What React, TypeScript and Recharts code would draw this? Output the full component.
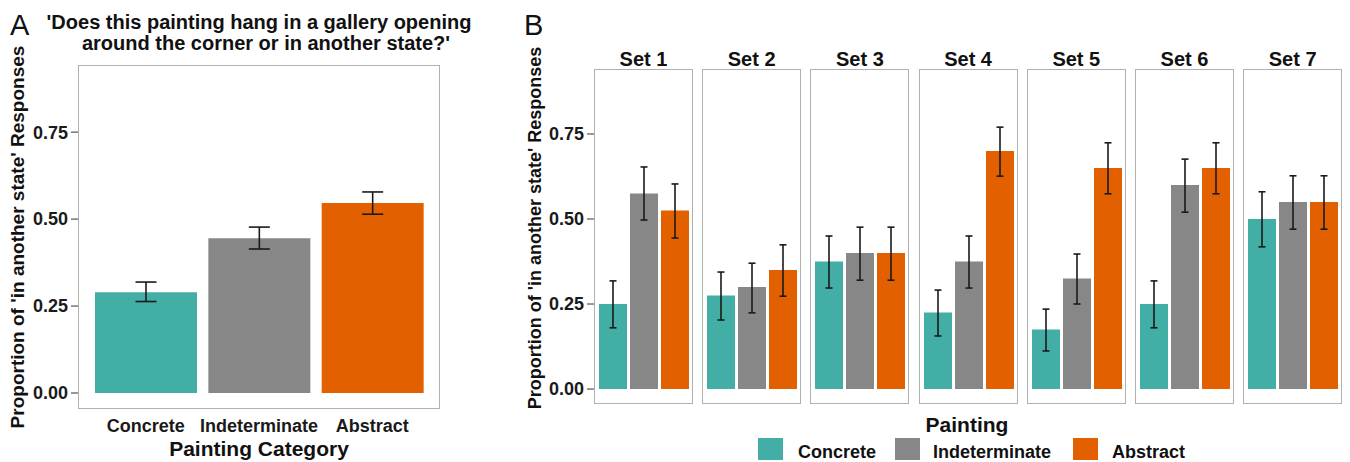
import React from 'react';
import { BarChart, Bar, XAxis, YAxis, ErrorBar, Cell } from 'recharts';

const FONT = '"Liberation Sans", Arial, Helvetica, sans-serif';

// painting categories + fill colours
const categories = ['Concrete', 'Indeterminate', 'Abstract'];
const catColors = ['#42aea5', '#878787', '#e36000'];
const yTicks = [0, 0.25, 0.5, 0.75];

// Panel A: overall proportions with error bar bounds
const overallMean = [0.29, 0.445, 0.546];
const overallLow = [0.263, 0.414, 0.514];
const overallHigh = [0.319, 0.477, 0.578];

// Panel B: per painting set
const setLabels = ['Set 1', 'Set 2', 'Set 3', 'Set 4', 'Set 5', 'Set 6', 'Set 7'];
const concreteMean = [0.25, 0.275, 0.375, 0.225, 0.175, 0.25, 0.5];
const concreteLow = [0.18, 0.203, 0.297, 0.156, 0.112, 0.18, 0.418];
const concreteHigh = [0.318, 0.344, 0.45, 0.291, 0.235, 0.318, 0.58];
const indetMean = [0.575, 0.3, 0.4, 0.375, 0.325, 0.6, 0.55];
const indetLow = [0.497, 0.224, 0.32, 0.297, 0.25, 0.52, 0.47];
const indetHigh = [0.653, 0.37, 0.476, 0.45, 0.397, 0.676, 0.627];
const abstractMean = [0.525, 0.35, 0.4, 0.7, 0.65, 0.65, 0.55];
const abstractLow = [0.444, 0.273, 0.32, 0.626, 0.574, 0.574, 0.47];
const abstractHigh = [0.603, 0.424, 0.476, 0.77, 0.724, 0.724, 0.627];

type Row = { cat: string; value: number; err: [number, number] };

const buildRows = (means: number[], lows: number[], highs: number[]): Row[] =>
    categories.map((c, i) => ({
        cat: c,
        value: means[i],
        err: [means[i] - lows[i], highs[i] - means[i]],
    }));

const tickStyle = { fill: '#1a1a1a', fontSize: 18, fontWeight: 700, fontFamily: FONT };
const borderColor = '#b0b0b0';

// panel B geometry
const FACET_LEFT = 594;
const FACET_STEP = 108.2;
const FACET_W = 99;
const FACET_TOP = 69;
const FACET_BOTTOM = 404;
const AXIS_W = 60;

const Facet: React.FC<{ index: number }> = ({ index }) => {
    const rows = buildRows(
        [concreteMean[index], indetMean[index], abstractMean[index]],
        [concreteLow[index], indetLow[index], abstractLow[index]],
        [concreteHigh[index], indetHigh[index], abstractHigh[index]]
    );
    const showAxis = index === 0;
    const plotLeft = FACET_LEFT + index * FACET_STEP;
    const chartLeft = showAxis ? plotLeft - AXIS_W : plotLeft;
    return (
        <>
            <div style={{ position: 'absolute', left: chartLeft, top: 0 }}>
                <BarChart
                    width={FACET_W + (showAxis ? AXIS_W : 0)}
                    height={462}
                    data={rows}
                    margin={{ top: FACET_TOP, right: 0, bottom: 462 - FACET_BOTTOM, left: 0 }}
                >
                    <XAxis dataKey="cat" type="category" hide padding={{ left: 3, right: 3 }} />
                    <YAxis
                        hide={!showAxis}
                        width={AXIS_W}
                        domain={[-0.044, 0.941]}
                        ticks={yTicks}
                        axisLine={false}
                        tickSize={7}
                        tickMargin={3}
                        tickLine={{ stroke: '#555', strokeWidth: 1.2 }}
                        tick={tickStyle}
                        tickFormatter={(v: number) => v.toFixed(2)}
                        allowDataOverflow
                    />
                    <Bar dataKey="value" barSize={28} isAnimationActive={false}>
                        {rows.map((r, i) => (
                            <Cell key={r.cat} fill={catColors[i]} />
                        ))}
                        <ErrorBar dataKey="err" width={3.5} stroke="#1a1a1a" strokeWidth={1.6} isAnimationActive={false} />
                    </Bar>
                </BarChart>
            </div>
            <div
                style={{
                    position: 'absolute',
                    left: plotLeft,
                    top: FACET_TOP,
                    width: FACET_W,
                    height: FACET_BOTTOM - FACET_TOP,
                    border: `1.5px solid ${borderColor}`,
                    boxSizing: 'border-box',
                    pointerEvents: 'none',
                }}
            />
        </>
    );
};

const App: React.FC = () => {
    const overallRows = buildRows(overallMean, overallLow, overallHigh);
    const legendX = [758, 895, 1073];
    const legendTextX = [798, 933, 1112];

    return (
        <div style={{ position: 'absolute', left: 0, top: 0, width: 1350, height: 462, background: '#fff', fontFamily: FONT }}>
            <svg width={1350} height={462} style={{ position: 'absolute', left: 0, top: 0 }}>
                <g fontFamily={FONT} fill="#111">
                    <text x={10} y={35} fontSize={29}>A</text>
                    <text x={524} y={35} fontSize={29}>B</text>
                    <text x={259} y={29} fontSize={20} fontWeight={700} textAnchor="middle">
                        'Does this painting hang in a gallery opening
                    </text>
                    <text x={266} y={50} fontSize={20} fontWeight={700} textAnchor="middle">
                        around the corner or in another state?'
                    </text>
                    <text transform="translate(24,237) rotate(-90)" fontSize={19} fontWeight={700} textAnchor="middle">
                        Proportion of 'in another state' Responses
                    </text>
                    <text x={259} y={456} fontSize={21} fontWeight={700} textAnchor="middle">Painting Category</text>
                    <text transform="translate(541,228) rotate(-90)" fontSize={18} fontWeight={700} textAnchor="middle">
                        Proportion of 'in another state' Responses
                    </text>
                    {setLabels.map((s, i) => (
                        <text key={s} x={FACET_LEFT + i * FACET_STEP + FACET_W / 2} y={66} fontSize={20} fontWeight={700} textAnchor="middle">
                            {s}
                        </text>
                    ))}
                    <text x={967} y={432} fontSize={21} fontWeight={700} textAnchor="middle">Painting</text>
                    {categories.map((c, i) => (
                        <g key={c}>
                            <rect x={legendX[i]} y={438} width={25} height={22} fill={catColors[i]} />
                            <text x={legendTextX[i]} y={458} fontSize={18} fontWeight={700}>{c}</text>
                        </g>
                    ))}
                </g>
            </svg>

            {/* Panel A */}
            <div style={{ position: 'absolute', left: 0, top: 0 }}>
                <BarChart
                    width={460}
                    height={462}
                    data={overallRows}
                    margin={{ top: 65, right: 20, bottom: 23, left: 10 }}
                >
                    <XAxis
                        dataKey="cat"
                        type="category"
                        height={30}
                        axisLine={false}
                        tickLine={false}
                        tickSize={6}
                        tickMargin={4}
                        tick={tickStyle}
                        padding={{ left: 11, right: 11 }}
                        interval={0}
                    />
                    <YAxis
                        width={68}
                        domain={[-0.046, 0.943]}
                        ticks={yTicks}
                        axisLine={false}
                        tickSize={7}
                        tickMargin={3}
                        tickLine={{ stroke: '#555', strokeWidth: 1.2 }}
                        tick={tickStyle}
                        tickFormatter={(v: number) => v.toFixed(2)}
                        allowDataOverflow
                    />
                    <Bar dataKey="value" barSize={102} isAnimationActive={false}>
                        {overallRows.map((r, i) => (
                            <Cell key={r.cat} fill={catColors[i]} />
                        ))}
                        <ErrorBar dataKey="err" width={10.5} stroke="#1a1a1a" strokeWidth={1.6} isAnimationActive={false} />
                    </Bar>
                </BarChart>
            </div>
            <div
                style={{
                    position: 'absolute',
                    left: 78,
                    top: 65,
                    width: 362,
                    height: 344,
                    border: `1.5px solid ${borderColor}`,
                    boxSizing: 'border-box',
                    pointerEvents: 'none',
                }}
            />

            {/* Panel B facets */}
            {setLabels.map((s, i) => (
                <Facet key={s} index={i} />
            ))}
        </div>
    );
};

export default App;
